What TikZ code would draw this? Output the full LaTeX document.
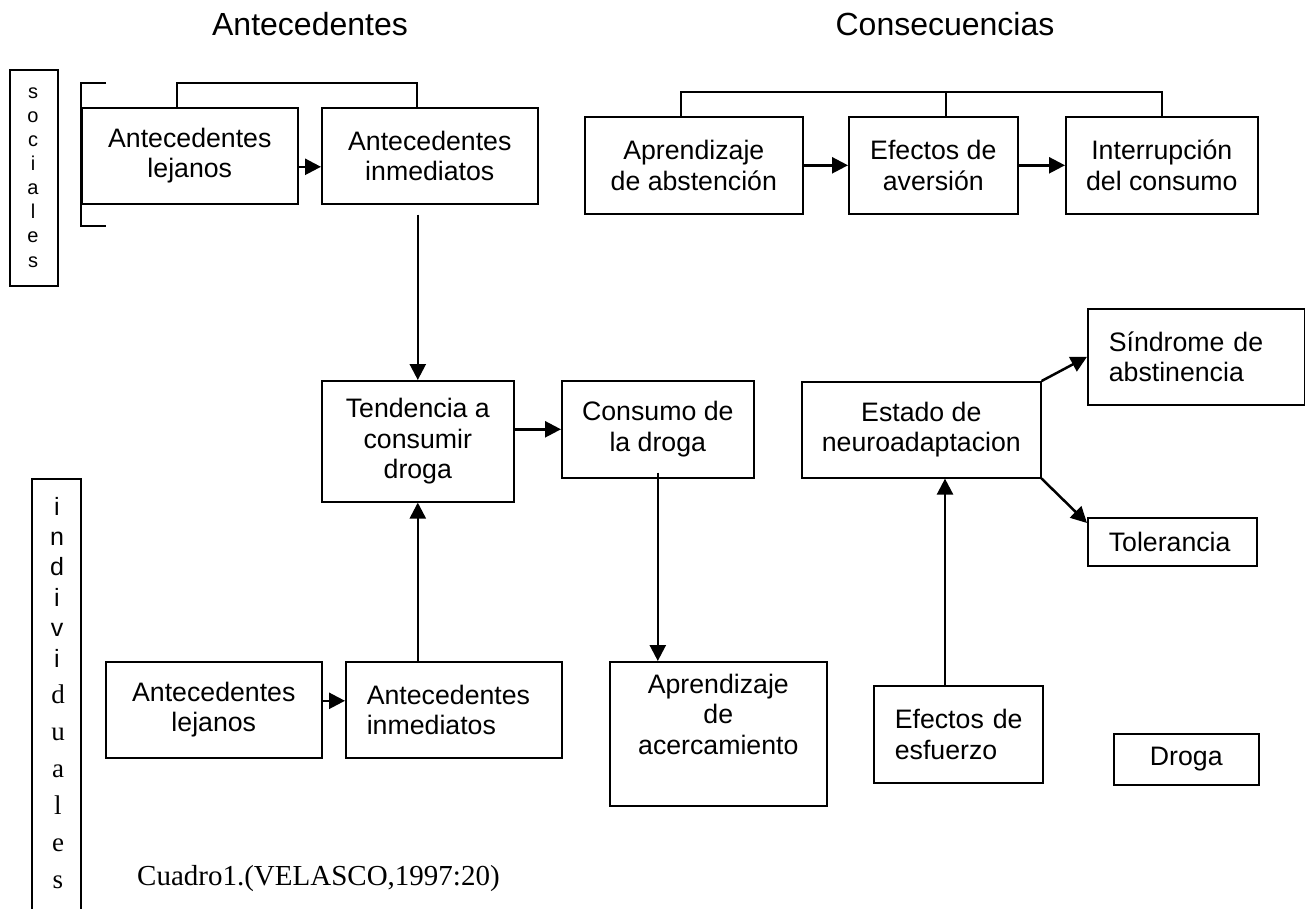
\documentclass[tikz,border=0pt]{standalone}
\usepackage{fontspec}
\setmainfont{Liberation Serif}
\newfontfamily\arialf{Liberation Sans}
\usetikzlibrary{arrows.meta,calc}
\newcommand\bxf{\arialf\fontsize{26.7}{30.5}\selectfont}
\newcommand\hdf{\arialf\fontsize{32}{38}\selectfont}
\newcommand\socf{\arialf\fontsize{20}{24}\selectfont}
\newcommand\indf{\arialf\fontsize{25}{29}\selectfont}
\newcommand\indtf{\fontsize{27}{32}\selectfont}
\newcommand\capf{\fontsize{29}{34}\selectfont}
\begin{document}
\begin{tikzpicture}[x=1pt,y=-1pt,
  bx/.style 2 args={draw, line width=1.6pt, anchor=north west, inner sep=0pt,
    minimum width=#1, minimum height=#2, align=center, font=\bxf},
  bl/.style 2 args={draw, line width=1.6pt, anchor=north west, inner ysep=0pt,
    inner xsep=21pt, text width=#1, minimum height=#2, align=left, font=\bxf},
  arr/.style={line width=2.5pt, -{Triangle[length=16pt,width=16pt]}},
  ln/.style={line width=1.6pt},
]
\useasboundingbox (0,0) rectangle (1305,909);

% headers
\node[font=\hdf, anchor=base] (hA) at (310,36) {Antecedentes};
\node[font=\hdf, anchor=base] (hC) at (945,36) {Consecuencias};

% sociales
\node[draw, line width=1.6pt, anchor=north west, inner sep=0pt,
  minimum width=48, minimum height=216] (soc) at (9,69) {};
\foreach \l [count=\i from 0] in {s,o,c,i,a,l,e,s}
  \node[font=\socf, anchor=base, inner sep=0pt] (s\i) at (33,{99+24*\i}) {\l};

% individuales
\draw[ln] (32,915) -- (32,479) -- (81,479) -- (81,915);
\foreach \l [count=\i from 0] in {i,n,d,i,v,i}
  \node[font=\indf, anchor=base, inner sep=0pt] (ia\i) at (57,{515+30.4*\i}) {\l};
\foreach \l [count=\i from 0] in {d,u,a,l,e,s}
  \node[font=\indtf, anchor=base, inner sep=0pt] (ib\i) at (58,{703+37*\i}) {\l};

% bracket left of top boxes
\draw[ln] (106,83) -- (81,83) -- (81,226) -- (106,226);

% boxes
\node[bx={216}{96}] (al) at (81,107) {Antecedentes\\lejanos};
\node[bx={216}{96}] (ai) at (321,107) {Antecedentes\\inmediatos};
\node[bx={218}{97}] (ap) at (584,116) {Aprendizaje\\de abstención};
\node[bx={169}{97}] (av) at (848,116) {Efectos de\\aversión};
\node[bx={192}{97}] (ic) at (1065,116) {Interrupción\\del consumo};
\node[bx={192}{121}] (td) at (321,380) {Tendencia a\\consumir\\droga};
\node[bx={192}{97}] (cd) at (561,380) {Consumo de\\la droga};
\node[bx={239}{96}] (es) at (801,381) {Estado de\\neuroadaptacion};
\node[bl={175}{96}] (sa) at (1087,308) {\mbox{Síndrome de}\\abstinencia};
\node[bl={127}{48}] (tol) at (1087,517) {Tolerancia};
\node[bx={216}{96}] (bl) at (105,661) {Antecedentes\\lejanos};
\node[bl={174}{96}] (bi) at (345,661) {Antecedentes\\inmediatos};
\node[bx={217}{144}] (aa) at (609,661) {Aprendizaje\\de\\acercamiento\\\strut};
\node[bl={127}{97}] (ef) at (873,685) {\mbox{Efectos de}\\esfuerzo};
\node[bx={145}{51}] (dr) at (1113,733) {Droga};

% caption
\node[font=\capf, anchor=base west, inner sep=0pt] (cap) at (137,885) {Cuadro1.(VELASCO,1997:20)};

% top connectors
\draw[ln] (al.north -| 177,0) -- ++(0,-24) -| (ai.north -| 417,0);
\draw[ln] (ap.north -| 681,0) -- ++(0,-24) -| (ic.north -| 1162,0);
\draw[ln] (av.north -| 946,0) -- ++(0,-24);

% arrows
\draw[arr] ([yshift=-11pt]al.east) -- ([yshift=-11pt]ai.west);
\draw[arr] (ap) -- (av);
\draw[arr] (av) -- (ic);
\draw[arr] ([yshift=-10pt]ai.south -| td.north) -- (td.north);
\draw[arr] (td.east |- cd.west) -- (cd.west);
\draw[arr] ([yshift=6pt]cd.south) -- (cd.south |- aa.north);
\draw[arr] (td.south |- bi.north) -- (td.south);
\draw[arr] ([yshift=9pt]bl.east) -- ([yshift=9pt]bi.west);
\draw[arr] (945,0 |- ef.north) -- (945,0 |- es.south);
\draw[arr] (es.north east) -- (sa.west);
\draw[arr] (es.south east) -- ([yshift=-6pt]tol.north west);
\end{tikzpicture}
\end{document}
